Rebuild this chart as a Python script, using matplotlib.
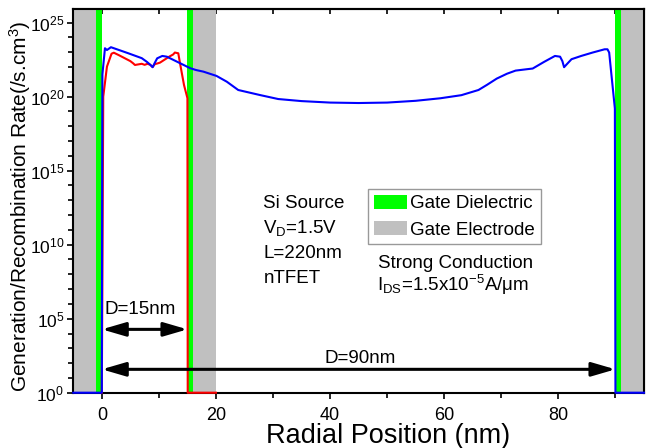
import numpy as np
import matplotlib
matplotlib.use("Agg")
import matplotlib.pyplot as plt
from matplotlib.patches import Patch
from matplotlib.ticker import FixedLocator, NullFormatter

plt.rcParams['font.family'] = ['Liberation Sans', 'DejaVu Sans']
plt.rcParams['mathtext.fontset'] = 'custom'
plt.rcParams['mathtext.rm'] = 'Liberation Sans'
plt.rcParams['mathtext.it'] = 'Liberation Sans:italic'
plt.rcParams['mathtext.default'] = 'regular'

# ----------------------------
# Datos: posicion radial (nm) y log10 de la tasa G/R
# ----------------------------
# Nanohilo D=90nm (azul)
x_d90 = [-5.0, 0.0, 0.1, 0.55, 0.9, 1.6, 4.5, 7.0, 7.9, 8.5, 8.9, 9.3, 9.7,
         10.6, 11.4, 13.5, 15.5, 16.5, 17.8, 20.1, 21.9, 23.9, 27.7, 30.9,
         35.0, 40.0, 45.0, 50.0, 55.0, 59.3, 63.0, 66.0, 67.5, 69.2, 71.0,
         72.5, 74.4, 75.5, 77.5, 79.4, 80.3, 80.7, 81.0, 81.5, 82.3, 84.0,
         86.0, 88.1, 88.6, 88.9, 89.9, 90.0, 95.0]
log_d90 = [0.0, 0.0, 21.5, 23.27, 23.15, 23.34, 22.95, 22.6, 22.35, 22.15,
           21.99, 22.3, 22.59, 22.75, 22.7, 22.3, 21.92, 21.8, 21.69, 21.4,
           21.01, 20.45, 20.11, 19.84, 19.7, 19.6, 19.57, 19.6, 19.72, 19.89,
           20.1, 20.45, 20.8, 21.22, 21.55, 21.76, 21.85, 21.9, 22.35, 22.75,
           22.7, 22.4, 21.99, 22.2, 22.53, 22.75, 22.98, 23.2, 23.2, 22.98,
           19.2, 0.0, 0.0]

# Nanohilo D=15nm (rojo)
x_d15 = [0.0, 0.25, 0.9, 1.7, 2.1, 3.0, 4.0, 5.0, 5.5, 5.8, 6.4, 7.0, 7.5,
         8.0, 8.5, 8.9, 9.3, 9.8, 10.2, 11.0, 11.8, 12.5, 12.8, 13.4, 13.7,
         14.4, 15.0, 15.05, 20.0]
log_d15 = [0.0, 20.0, 22.03, 22.9, 22.97, 22.8, 22.6, 22.4, 22.25, 22.14,
           22.18, 22.22, 22.15, 22.22, 22.15, 22.0, 22.2, 22.25, 22.3, 22.5,
           22.7, 22.85, 22.98, 22.93, 22.26, 20.79, 19.9, 0.0, 0.0]

# Regiones de compuerta (nm)
dielectric = [(-1, 0), (15, 16), (90, 91)]
electrode = [(-5, -1), (16, 20), (91, 95)]

rate_d90 = 10.0 ** np.array(log_d90)
rate_d15 = 10.0 ** np.array(log_d15)

arrow_15 = (0, 15, 10 ** 4.28)
arrow_90 = (0, 90, 10 ** 1.58)

x_ticks = [0, 20, 40, 60, 80]
x_minor = [10, 30, 50, 70, 90]
y_major = [10.0 ** k for k in range(0, 26, 5)]
y_labels = [r'$10^{%d}$' % k for k in range(0, 26, 5)]
y_minor = [10.0 ** k for k in range(0, 26) if k % 5]

color_green = "#00FF00"
color_gray = "#C0C0C0"

# ----------------------------
# Figura
# ----------------------------
fig = plt.figure(figsize=(6.52, 4.48), dpi=100)
ax = fig.add_axes([0.1124, 0.1234, 0.8753, 0.8558])

for a, b in electrode:
    ax.axvspan(a, b, color=color_gray, lw=0, zorder=1)
for a, b in dielectric:
    ax.axvspan(a, b, color=color_green, lw=0, zorder=1)

ax.plot(x_d15, rate_d15, color="#FF0000", lw=1.5, zorder=4, clip_on=False)
ax.plot(x_d90, rate_d90, color="#0000FF", lw=1.5, zorder=5, clip_on=False)

ax.set_yscale('log')
ax.set_xlim(-5, 95)
ax.set_ylim(1, 10 ** 25.9)

# Flechas de diametro
for x0, x1, yv in (arrow_15, arrow_90):
    ax.annotate('', xy=(x1, yv), xytext=(x0, yv),
                arrowprops=dict(arrowstyle='<|-|>,head_length=1.44,head_width=0.42',
                                mutation_scale=10, color='black', lw=2.2,
                                shrinkA=0, shrinkB=0), zorder=6)

ax.text(0.0555, 0.2053, 'D=15nm', transform=ax.transAxes, fontsize=13.5,
        ha='left', va='baseline')
ax.text(0.5024, 0.0775, 'D=90nm', transform=ax.transAxes, fontsize=13.5,
        ha='center', va='baseline')

# Condiciones de simulacion
info = ['Si Source', r'V$_\mathregular{D}$=1.5V', 'L=220nm', 'nTFET']
for i, s in enumerate(info):
    ax.text(0.333, 0.4817 - i * 0.0652, s, transform=ax.transAxes,
            fontsize=13.5, ha='left', va='baseline')
ax.text(0.6706, 0.3252, 'Strong Conduction', transform=ax.transAxes,
        fontsize=13.5, ha='center', va='baseline')
ax.text(0.6644, 0.2653, r'I$_\mathregular{DS}$=1.5x10$^\mathregular{-5}$A/μm',
        transform=ax.transAxes, fontsize=13.5, ha='center', va='baseline')

handles = [Patch(facecolor=color_green, edgecolor='none', label='Gate Dielectric'),
           Patch(facecolor=color_gray, edgecolor='none', label='Gate Electrode')]
leg = ax.legend(handles=handles, loc='upper left', bbox_to_anchor=(0.517, 0.5305),
                borderaxespad=0, fontsize=13.5, frameon=True, fancybox=False,
                handlelength=1.75, handleheight=0.75, handletextpad=0.18,
                borderpad=0.3, labelspacing=0.47)
leg.get_frame().set_edgecolor('#808080')
leg.get_frame().set_linewidth(1.0)

# Ejes: ticks hacia fuera abajo/izquierda, hacia dentro arriba/derecha
ax.set_xticks(x_ticks)
ax.xaxis.set_minor_locator(FixedLocator(x_minor))
ax.set_yticks(y_major, labels=y_labels)
ax.yaxis.set_minor_locator(FixedLocator(y_minor))
ax.yaxis.set_minor_formatter(NullFormatter())
ax.tick_params(axis='both', which='major', direction='out', length=4.5,
               width=1.2, labelsize=13, top=False, right=False)
ax.tick_params(axis='both', which='minor', direction='out', length=3.5,
               width=1.2, top=False, right=False)
ax.tick_params(axis='x', which='major', pad=6)
ax.tick_params(axis='y', which='major', pad=2, labelsize=12.5)

for sp in ax.spines.values():
    sp.set_linewidth(1.5)
    sp.set_zorder(3)

sec_x = ax.secondary_xaxis('top')
top_ticks = sorted(x_ticks + x_minor)
sec_x.set_xticks(top_ticks, labels=[''] * len(top_ticks))
sec_x.tick_params(direction='in', length=3.5, width=1.2)
sec_x.spines['top'].set_linewidth(1.5)

sec_y = ax.secondary_yaxis('right')
right_ticks = sorted(y_major + y_minor)
sec_y.set_yticks(right_ticks, labels=[''] * len(right_ticks))
sec_y.yaxis.set_minor_locator(FixedLocator([]))
sec_y.tick_params(direction='in', length=5, width=1.2)
sec_y.spines['right'].set_linewidth(1.5)

ax.set_xlabel('Radial Position (nm)', fontsize=19.5)
ax.xaxis.label.set_va('baseline')
ax.xaxis.set_label_coords(0.551, -0.13)
ax.set_ylabel('Generation/Recombination Rate(/s.cm$^\\mathregular{3}$)', fontsize=15)
ax.yaxis.label.set_va('baseline')
ax.yaxis.set_label_coords(-0.082, 0.487)

fig.savefig('out.png', dpi=100)
